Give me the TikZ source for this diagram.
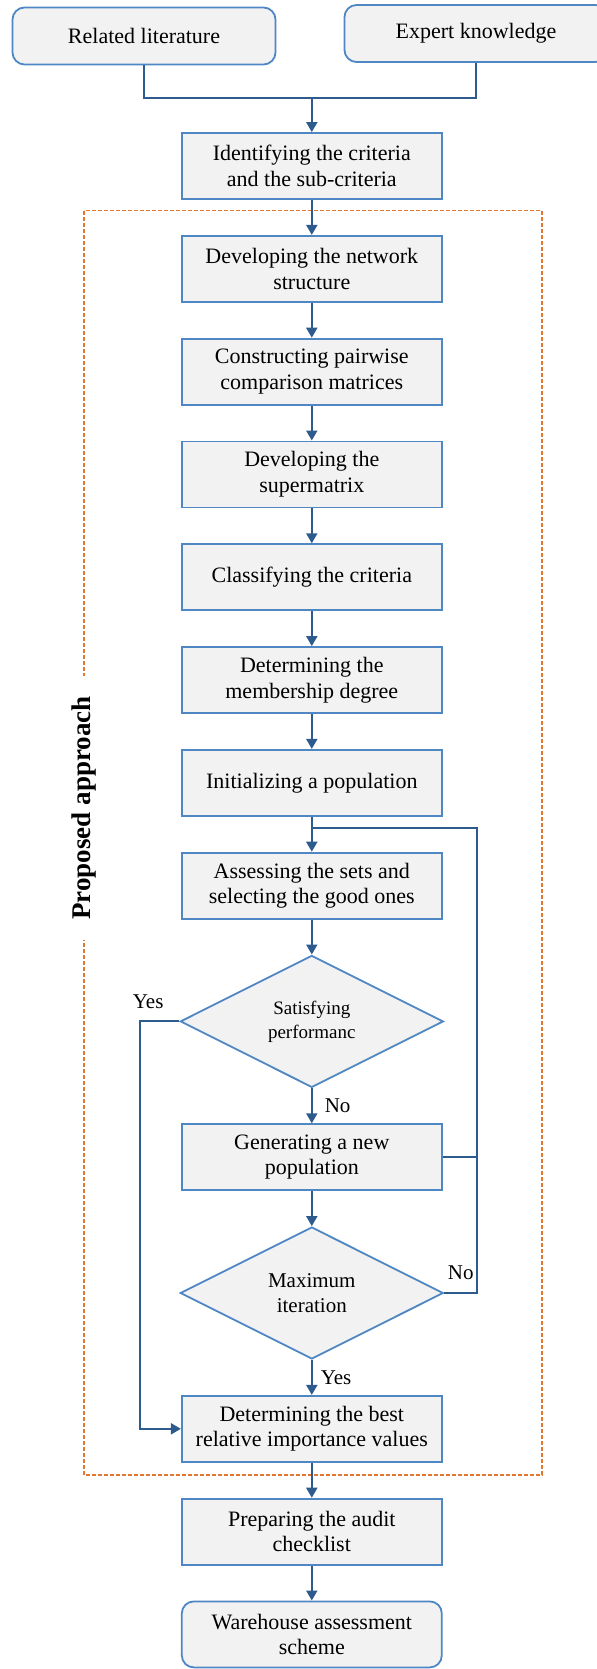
\documentclass[tikz,border=0pt]{standalone}
\usepackage{fontspec}
\setmainfont{Liberation Serif}
\usepackage{tikz}
\usetikzlibrary{arrows.meta,positioning,calc,shapes.geometric}

\definecolor{boxline}{HTML}{4F87C4}
\definecolor{boxfill}{HTML}{F2F2F2}
\definecolor{flowline}{HTML}{2D5B8D}
\definecolor{approach}{HTML}{E2772F}

\begin{document}
\begin{tikzpicture}[x=0.5pt,y=-0.5pt,>={Triangle[length=5pt,width=5.5pt]},node distance=17.5pt,
  stepbox/.style={draw=boxline,line width=0.9pt,fill=boxfill,align=center,
    minimum width=130pt,minimum height=33pt,inner sep=2pt,font=\fontsize{11}{12.8}\selectfont},
  sourcebox/.style={stepbox,rounded corners=6pt,minimum width=131.5pt,minimum height=28.5pt},
  decision/.style={diamond,draw=boxline,line width=0.9pt,fill=boxfill,align=center,
    minimum width=131.5pt,minimum height=66pt,inner sep=0pt},
  flow/.style={draw=flowline,line width=1pt},
  arr/.style={flow,->},
  lbl/.style={font=\fontsize{10.5}{12}\selectfont,inner sep=3pt}]
  \useasboundingbox (0,0) rectangle (597,1669);

  % dashed frame of the proposed approach
  \draw[draw=approach,line width=0.8pt,dash pattern=on 2pt off 1pt] (84,210.7) rectangle (541.7,1475);
  \node[rotate=90,fill=white,inner xsep=10pt,inner ysep=1pt,font=\bfseries\fontsize{13.5}{15}\selectfont] (approachlbl) at (84,808) {Proposed approach};

  \node[sourcebox] (lit) at (144,36) {Related literature};
  \node[sourcebox] (expert) at (476,33.5) {Expert knowledge};
  \node[stepbox] (ident) at (311.8,166) {Identifying the criteria\\and the sub-criteria};
  \node[stepbox,below=of ident] (network) {Developing the network\\structure};
  \node[stepbox,below=of network] (pairwise) {Constructing pairwise\\comparison matrices};
  \node[stepbox,below=of pairwise] (supermx) {Developing the\\supermatrix};
  \node[stepbox,below=of supermx] (classify) {Classifying the criteria};
  \node[stepbox,below=of classify] (member) {Determining the\\membership degree};
  \node[stepbox,below=of member] (init) {Initializing a population};
  \node[stepbox,below=of init] (assess) {Assessing the sets and\\selecting the good ones};
  \node[decision,below=of assess,font=\fontsize{9.5}{12}\selectfont] (satisfy) {Satisfying\\performanc};
  \node[stepbox,below=of satisfy] (generate) {Generating a new\\population};
  \node[decision,below=of generate,font=\fontsize{10.5}{12.5}\selectfont] (maxiter) {Maximum\\iteration};
  \node[stepbox,below=of maxiter] (best) {Determining the best\\relative importance values};
  \node[stepbox,below=of best] (audit) {Preparing the audit\\checklist};
  \node[stepbox,rounded corners=6pt,below=of audit] (scheme) {Warehouse assessment\\scheme};

  % inputs
  \coordinate (join) at ($(ident.north)+(0,-34)$);
  \draw[flow] (lit.south) |- (join) -| (expert.south);
  \draw[arr] (join) -- (ident);

  % main chain
  \draw[arr] (ident) -- (network);
  \draw[arr] (network) -- (pairwise);
  \draw[arr] (pairwise) -- (supermx);
  \draw[arr] (supermx) -- (classify);
  \draw[arr] (classify) -- (member);
  \draw[arr] (member) -- (init);
  \draw[arr] (init) -- (assess);
  \draw[arr] (assess) -- (satisfy);
  \draw[arr] (satisfy) -- node[lbl,right=3pt] {No} (generate);
  \draw[arr] (generate) -- (maxiter);
  \draw[arr] (maxiter) -- node[lbl,right=1pt] {Yes} (best);
  \draw[arr] (best) -- (audit);
  \draw[arr] (audit) -- (scheme);

  % loop back
  \coordinate (back) at ($(init.south)!0.33!(assess.north)$);
  \coordinate (loopx) at ($(maxiter.east)+(33,0)$);
  \draw[flow] (maxiter.east) -- node[lbl,above=3pt] {No} (loopx) |- (back);
  \draw[flow] (generate.east) -- (generate.east -| loopx);

  % satisfied: jump to the result
  \draw[arr] (satisfy.west) -- node[lbl,above=3pt,pos=0.8] {Yes} ++(-39,0) |- (best.west);
\end{tikzpicture}
\end{document}
